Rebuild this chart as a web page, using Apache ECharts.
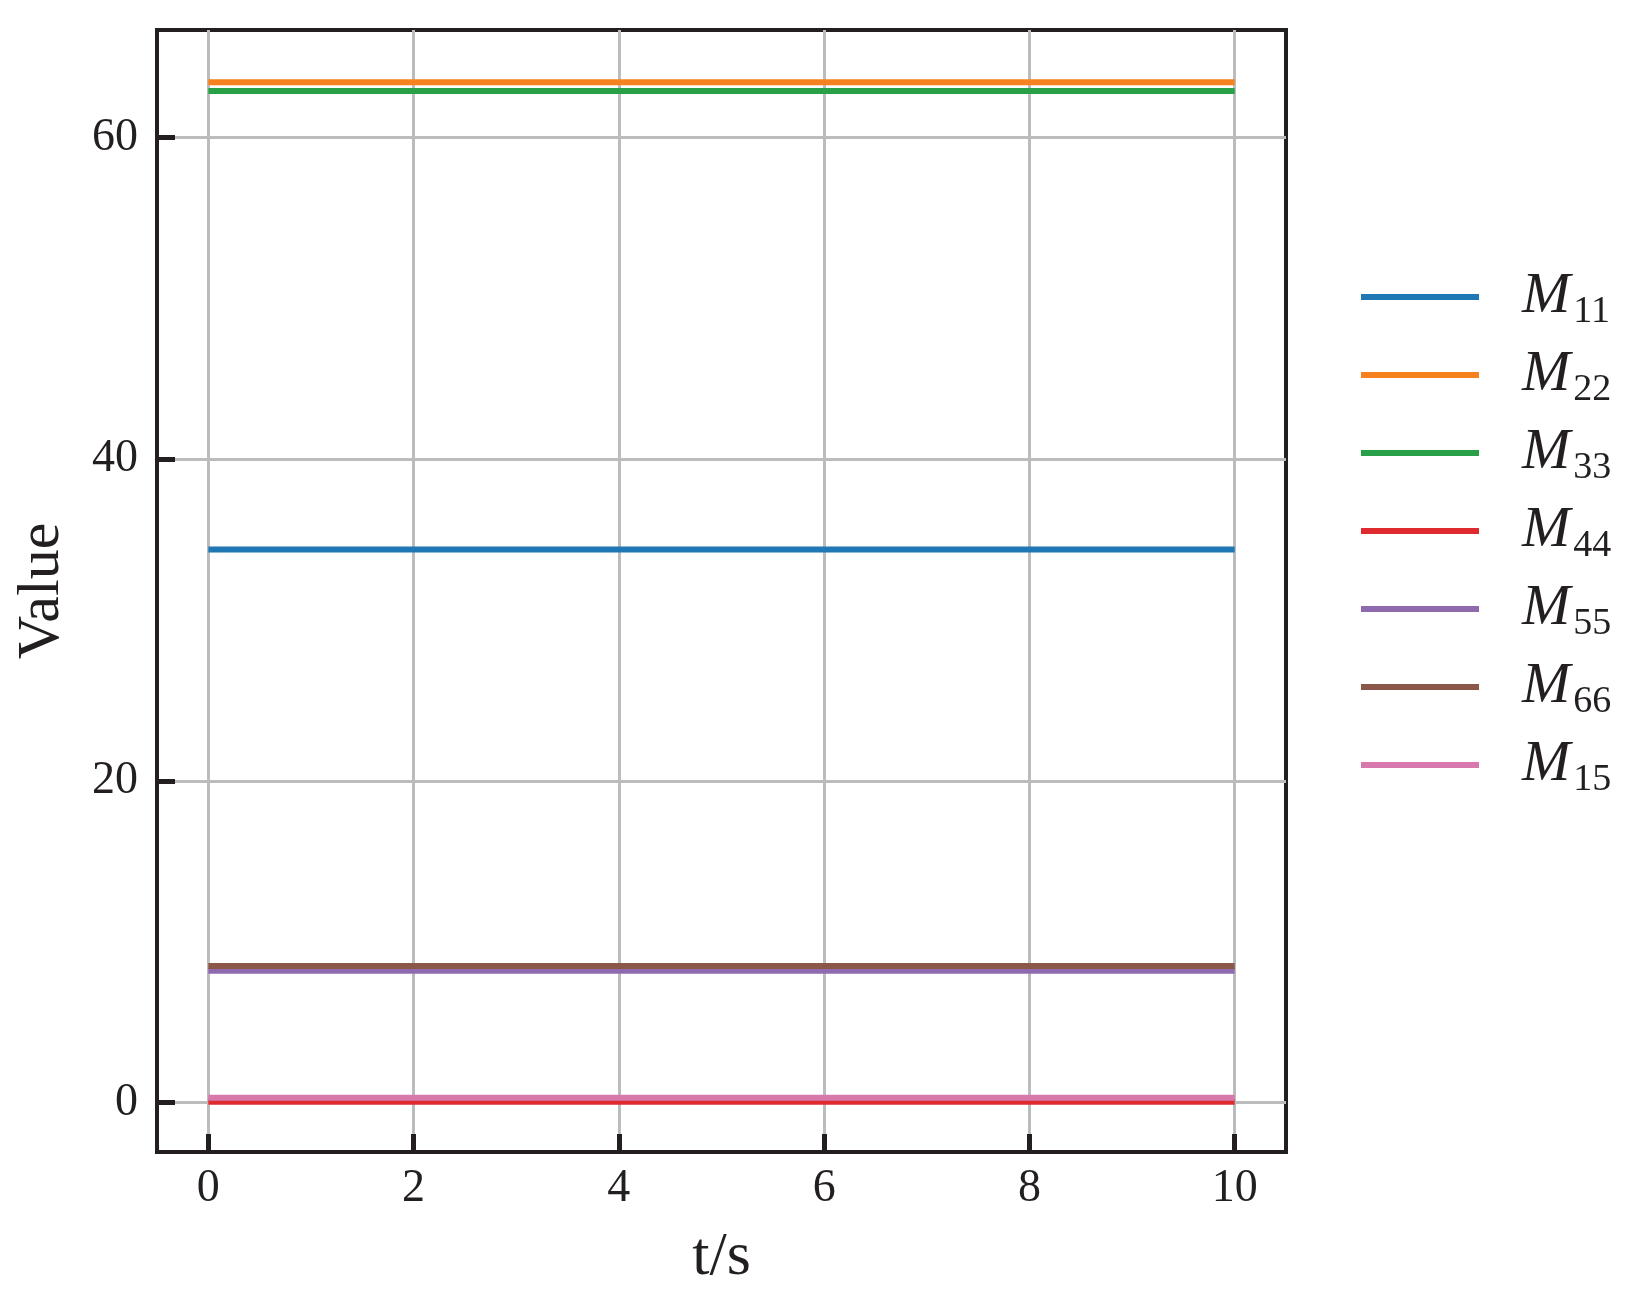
<!DOCTYPE html>
<html>
<head>
<meta charset="utf-8">
<script src="https://cdn.jsdelivr.net/npm/echarts@6/dist/echarts.min.js"></script>
<style>
  html, body { margin: 0; padding: 0; background: #fff; }
  #chart { width: 1640px; height: 1302px; }
</style>
</head>
<body>
<div id="chart"></div>
<script>
var seriesNames = ['11', '22', '33', '44', '55', '66', '15'];
var seriesValues = [34.4, 63.45, 62.9, 0.05, 8.2, 8.5, 0.3];
var seriesColors = ['#1f77b4', '#f5821f', '#27a048', '#df2a30', '#8f6aae', '#8b5749', '#d779ad'];
var timeRange = [0, 10];
var xTicks = [0, 2, 4, 6, 8, 10];
var yTicks = [0, 20, 40, 60];

var myChart = echarts.init(document.getElementById('chart'));
var font = '"Liberation Serif", "DejaVu Serif", serif';
var ink = '#231f20';

var series = seriesNames.map(function (n, i) {
    return {
        name: 'M' + n,
        type: 'line',
        symbol: 'none',
        animation: false,
        data: timeRange.map(function (t) { return [t, seriesValues[i]]; }),
        lineStyle: { width: 6, color: seriesColors[i], cap: 'butt' },
        itemStyle: { color: seriesColors[i] }
    };
});

var option = {
    backgroundColor: '#fff',
    animation: false,
    grid: {
        left: 157, top: 30, right: 354, bottom: 150,
        show: true, borderColor: ink, borderWidth: 4, backgroundColor: 'transparent'
    },
    xAxis: {
        type: 'value',
        min: -0.5, max: 10.5,
        name: 't/s',
        nameLocation: 'middle',
        nameGap: 75,
        nameTextStyle: { fontFamily: font, fontSize: 62, color: ink },
        axisLine: { show: false, onZero: false },
        axisTick: { show: true, inside: true, length: 18, customValues: xTicks,
            lineStyle: { color: ink, width: 5 } },
        axisLabel: { customValues: xTicks, margin: 14, fontFamily: font, fontSize: 46, color: ink },
        splitLine: { show: true, lineStyle: { color: '#bbbcbe', width: 3 } }
    },
    yAxis: {
        type: 'value',
        min: -3.07, max: 66.7,
        name: 'Value',
        nameLocation: 'middle',
        nameGap: 85,
        nameTextStyle: { fontFamily: font, fontSize: 60, color: ink },
        axisLine: { show: false, onZero: false },
        axisTick: { show: true, inside: true, length: 18, customValues: yTicks,
            lineStyle: { color: ink, width: 5 } },
        axisLabel: { customValues: yTicks, margin: 19, fontFamily: font, fontSize: 46, color: ink },
        splitLine: { show: true, lineStyle: { color: '#bbbcbe', width: 3 } }
    },
    legend: {
        orient: 'vertical',
        left: 1361,
        top: 263,
        padding: 0,
        itemWidth: 118,
        itemHeight: 6,
        itemGap: 10,
        icon: 'rect',
        data: series.map(function (s) { return s.name; }),
        formatter: function (name) {
            return '{m|M}{s|' + name.slice(1) + '}';
        },
        textStyle: {
            rich: {
                m: { fontFamily: font, fontStyle: 'italic', fontSize: 58, lineHeight: 67,
                     color: ink, padding: [0, 0, 0, 38] },
                s: { fontFamily: font, fontSize: 38, lineHeight: 37, color: ink,
                     padding: [30, 0, 0, 3] }
            }
        }
    },
    series: series
};
myChart.setOption(option);
</script>
</body>
</html>
